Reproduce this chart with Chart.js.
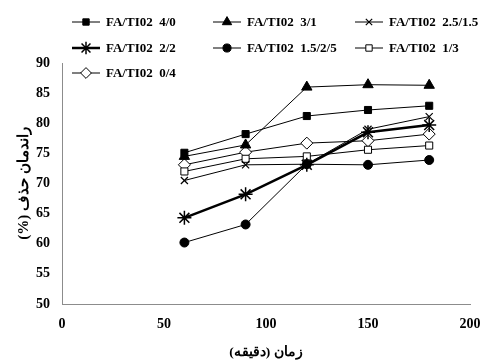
<!DOCTYPE html>
<html><head><meta charset="utf-8">
<script src="https://cdn.jsdelivr.net/npm/chart.js@4/dist/chart.umd.min.js"></script>
<style>html,body{margin:0;padding:0;background:#fff}#wrap{width:483px;height:361px}</style>
</head><body><div id="wrap"><canvas id="c" width="483" height="361"></canvas></div>
<script>
const times = [60, 90, 120, 150, 180];
const labels = ['FA/TI02  4/0','FA/TI02  3/1','FA/TI02  2.5/1.5','FA/TI02  2/2','FA/TI02  1.5/2/5','FA/TI02  1/3','FA/TI02  0/4'];
const s40  = [75.1, 78.2, 81.2, 82.2, 82.9];
const s31  = [74.5, 76.4, 86.0, 86.4, 86.3];
const s2515 = [70.5, 73.1, 73.2, 79.0, 81.1];
const s22  = [64.3, 68.2, 73.1, 78.5, 79.7];
const s15  = [60.2, 63.2, 73.2, 73.1, 73.9];
const s13  = [72.0, 74.1, 74.5, 75.6, 76.3];
const s04  = [73.1, 75.2, 76.7, 77.1, 78.2];
const xTicks = [0, 50, 100, 150, 200];
const yTicks = [50, 55, 60, 65, 70, 75, 80, 85, 90];
const xTitle = 'زمان (دقیقه)';
const yTitle = 'راندمان حذف (%)';

const styles = [
  {pointStyle:'rect', radius:5, bg:'#000', bw:1, lw:1},
  {pointStyle:'triangle', radius:6, bg:'#000', bw:1, lw:1},
  {pointStyle:'crossRot', radius:5, bg:'#000', bw:1.2, lw:1},
  {pointStyle:'star', radius:7, bg:'#000', bw:1.5, lw:2.5},
  {pointStyle:'circle', radius:4.5, bg:'#000', bw:1, lw:1},
  {pointStyle:'rect', radius:5, bg:'#fff', bw:1, lw:1},
  {pointStyle:'rectRot', radius:6, bg:'#fff', bw:1, lw:1}
];
const series = [s40, s31, s2515, s22, s15, s13, s04];
const datasets = series.map((s, i) => ({
  label: labels[i],
  data: times.map((t, j) => ({x: t, y: s[j]})),
  borderColor: '#000',
  borderWidth: styles[i].lw,
  pointStyle: styles[i].pointStyle,
  pointRadius: styles[i].radius,
  pointBackgroundColor: styles[i].bg,
  pointBorderColor: '#000',
  pointBorderWidth: styles[i].bw,
  tension: 0,
  fill: false
}));

const customLegend = {
  id: 'customLegend',
  afterDraw(chart) {
    const ctx = chart.ctx;
    const colX = [72, 213, 355];
    const rowY = [22, 48, 73];
    ctx.save();
    chart.data.datasets.forEach((ds, i) => {
      const x = colX[i % 3], y = rowY[Math.floor(i / 3)];
      ctx.strokeStyle = '#000';
      ctx.lineWidth = ds.borderWidth;
      ctx.beginPath(); ctx.moveTo(x, y); ctx.lineTo(x + 28, y); ctx.stroke();
      ctx.fillStyle = ds.pointBackgroundColor; ctx.strokeStyle = '#000';
      ctx.lineWidth = ds.pointBorderWidth;
      Chart.helpers.drawPoint(ctx, {pointStyle: ds.pointStyle, radius: ds.pointRadius * 0.9, rotation: 0, borderWidth: ds.pointBorderWidth}, x + 14, y);
      ctx.fillStyle = '#000';
      ctx.font = 'bold 13px "Liberation Serif"';
      ctx.textBaseline = 'middle';
      ctx.textAlign = 'left';
      ctx.fillText(ds.label, x + 34, y + 1);
    });
    ctx.restore();
  }
};

new Chart(document.getElementById('c'), {
  type: 'line',
  data: { datasets },
  options: {
    responsive: false,
    animation: false,
    layout: { padding: { top: 63, right: 13, left: 11, bottom: 0 } },
    plugins: { legend: { display: false }, tooltip: { enabled: false } },
    scales: {
      x: {
        type: 'linear', min: 0, max: 200,
        afterBuildTicks: (ax) => { ax.ticks = xTicks.map(v => ({value: v})); },
        afterFit: (s) => { s.height = 57; s.paddingRight = 0; s.paddingLeft = 0; },
        grid: { display: false, drawTicks: false },
        border: { display: true, color: '#8c8c8c', width: 1 },
        ticks: { color: '#000', padding: 12, maxRotation: 0, font: { family: 'Liberation Serif', size: 14, weight: 'bold' } },
        title: { display: true, text: '\u202B' + xTitle + '\u202C', color: '#000', padding: { top: 9, bottom: 0 }, font: { family: 'Liberation Serif', size: 13.5, weight: 'bold' } }
      },
      y: {
        min: 50, max: 90,
        afterBuildTicks: (ax) => { ax.ticks = yTicks.map(v => ({value: v})); },
        afterFit: (s) => { s.width = 51; },
        grid: { display: false, drawTicks: false },
        border: { display: true, color: '#8c8c8c', width: 1 },
        ticks: { color: '#000', padding: 12, font: { family: 'Liberation Serif', size: 14, weight: 'bold' } },
        title: { display: true, text: '\u202B' + yTitle + '\u202C', color: '#000', padding: { top: 4, bottom: 4 }, font: { family: 'Liberation Serif', size: 15, weight: 'bold' } }
      }
    }
  },
  plugins: [customLegend]
});
</script></body></html>
